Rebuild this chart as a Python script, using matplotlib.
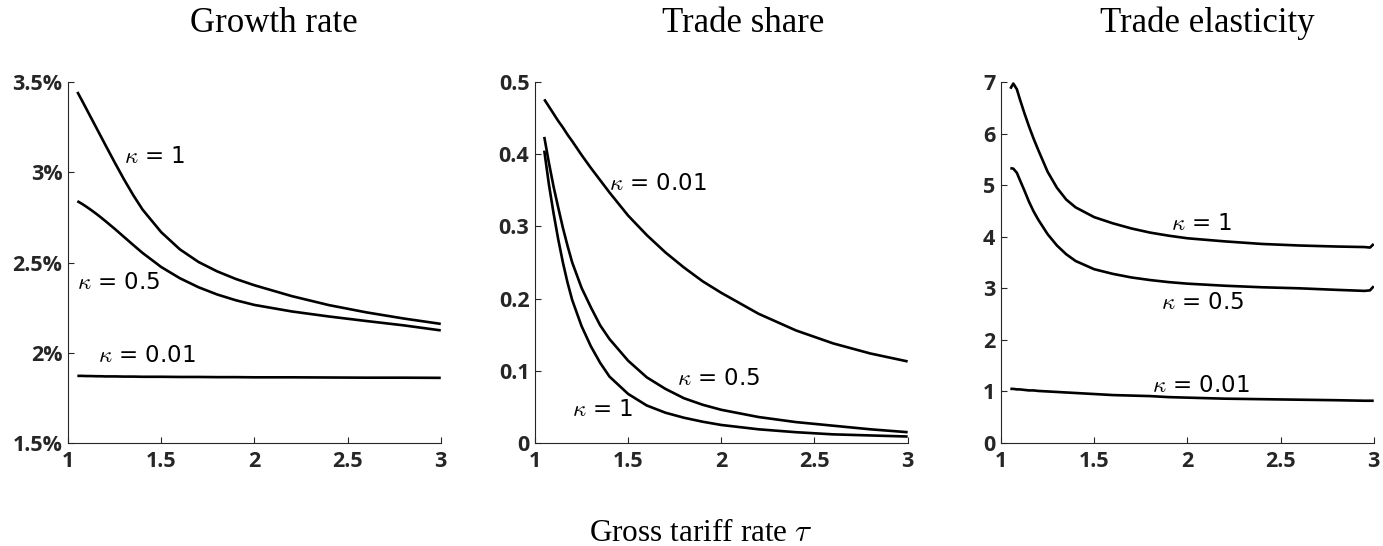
import numpy as np
import matplotlib
matplotlib.use("Agg")
import matplotlib.pyplot as plt
from matplotlib.ticker import FuncFormatter

# gross tariff grid (growth rate and trade share panels)
tau = [1.05, 1.075, 1.1, 1.125, 1.15, 1.175, 1.2, 1.25, 1.3, 1.35, 1.4,
       1.5, 1.6, 1.7, 1.8, 1.9, 2.0, 2.2, 2.4, 2.6, 2.8, 3.0]

# growth rate, in percent
growth_k1 = [3.445, 3.397, 3.348, 3.299, 3.25, 3.201, 3.152, 3.055, 2.961, 2.873, 2.793,
             2.668, 2.573, 2.503, 2.451, 2.409, 2.374, 2.314, 2.264, 2.224, 2.19, 2.16]
growth_k05 = [2.84, 2.825, 2.808, 2.79, 2.771, 2.751, 2.73, 2.687, 2.642, 2.597, 2.553,
              2.475, 2.413, 2.363, 2.323, 2.291, 2.265, 2.229, 2.201, 2.176, 2.152, 2.124]
growth_k001 = [1.872, 1.872, 1.871, 1.871, 1.870, 1.870, 1.869, 1.869, 1.868, 1.868, 1.867,
               1.867, 1.866, 1.866, 1.865, 1.865, 1.864, 1.864, 1.863, 1.862, 1.862, 1.861]

# trade share
share_k1 = [0.405, 0.358, 0.318, 0.282, 0.25, 0.222, 0.198, 0.162, 0.134, 0.111, 0.092,
            0.068, 0.052, 0.042, 0.035, 0.0295, 0.025, 0.019, 0.015, 0.012, 0.0105, 0.009]
share_k05 = [0.424, 0.388, 0.355, 0.326, 0.298, 0.273, 0.25, 0.215, 0.188, 0.163, 0.144,
             0.114, 0.091, 0.075, 0.062, 0.053, 0.046, 0.036, 0.029, 0.024, 0.019, 0.015]
share_k001 = [0.476, 0.466, 0.456, 0.446, 0.437, 0.427, 0.418, 0.399, 0.381, 0.364, 0.347,
              0.315, 0.288, 0.264, 0.243, 0.224, 0.208, 0.179, 0.156, 0.138, 0.124, 0.113]

# trade elasticity (own grid, the numerical curves wiggle at both ends)
tau_el = [1.05, 1.066, 1.085, 1.1, 1.125, 1.15, 1.175, 1.2, 1.25, 1.3, 1.35, 1.4,
          1.5, 1.6, 1.7, 1.8, 1.9, 2.0, 2.2, 2.4, 2.6, 2.8, 2.95, 2.98, 3.0]
elast_k1 = [6.87, 6.97, 6.86, 6.68, 6.40, 6.14, 5.90, 5.68, 5.26, 4.95, 4.72, 4.57,
            4.38, 4.26, 4.16, 4.08, 4.02, 3.97, 3.91, 3.86, 3.83, 3.81, 3.80, 3.79, 3.86]
elast_k05 = [5.33, 5.32, 5.24, 5.11, 4.90, 4.68, 4.49, 4.33, 4.05, 3.83, 3.66, 3.53,
             3.37, 3.28, 3.21, 3.16, 3.12, 3.09, 3.05, 3.02, 3.00, 2.97, 2.95, 2.96, 3.04]
elast_k001 = [1.05, 1.05, 1.04, 1.04, 1.03, 1.02, 1.02, 1.01, 1.00, 0.99, 0.98, 0.97,
              0.95, 0.93, 0.92, 0.91, 0.89, 0.88, 0.86, 0.85, 0.84, 0.83, 0.82, 0.82, 0.82]

titles = ["Growth rate", "Trade share", "Trade elasticity"]
x_ticks = [1, 1.5, 2, 2.5, 3]
growth_ticks = [1.5, 2, 2.5, 3, 3.5]
share_ticks = [0, 0.1, 0.2, 0.3, 0.4, 0.5]
elast_ticks = [0, 1, 2, 3, 4, 5, 6, 7]

# curve label text and anchor (x, y) per panel
growth_labels = [("1", 1.30, 3.085), ("0.5", 1.05, 2.39), ("0.01", 1.16, 1.985)]
share_labels = [("0.01", 1.40, 0.359), ("0.5", 1.76, 0.090), ("1", 1.20, 0.046)]
elast_labels = [("1", 1.91, 4.25), ("0.5", 1.86, 2.72), ("0.01", 1.81, 1.12)]

plt.rcParams["mathtext.fontset"] = "cm"
ink = "#262626"

fig = plt.figure(figsize=(13.83, 5.46), dpi=100)
lefts = [0.0492, 0.3868, 0.7238]
axes = [fig.add_axes([l, 0.1886, 0.2695, 0.6612]) for l in lefts]

panels = [
    (tau, [growth_k1, growth_k05, growth_k001], growth_ticks, growth_labels),
    (tau, [share_k1, share_k05, share_k001], share_ticks, share_labels),
    (tau_el, [elast_k1, elast_k05, elast_k001], elast_ticks, elast_labels),
]

for ax, (xs, curves, yt, labels) in zip(axes, panels):
    for ys in curves:
        ax.plot(xs, ys, color="black", lw=1.9, solid_capstyle="butt")
    ax.set_xlim(1, 3)
    ax.set_ylim(yt[0], yt[-1])
    ax.set_xticks(x_ticks)
    ax.set_yticks(yt)
    ax.xaxis.set_major_formatter(FuncFormatter(lambda v, p: f"{v:g}"))
    ax.yaxis.set_major_formatter(FuncFormatter(lambda v, p: f"{v:g}"))
    for side in ["top", "right"]:
        ax.spines[side].set_visible(False)
    for side in ["left", "bottom"]:
        ax.spines[side].set_color(ink)
        ax.spines[side].set_linewidth(0.8)
    ax.tick_params(direction="in", length=4, width=0.8, color=ink,
                   labelcolor=ink, labelsize=15.5)
    ax.tick_params(axis="x", pad=6)
    ax.tick_params(axis="y", pad=4)
    for t in ax.get_xticklabels() + ax.get_yticklabels():
        t.set_fontweight("bold")
        t.set_family("Open Sans")
    for val, lx, ly in labels:
        ax.text(lx, ly, r"$\kappa$ = " + val, fontsize=16.5, color="black",
                family="DejaVu Sans", ha="left", va="center")

axes[0].yaxis.set_major_formatter(FuncFormatter(lambda v, p: f"{v:g}%"))

title_x = [274 / 1383, 743 / 1383, 1207 / 1383]
for tx, name in zip(title_x, titles):
    fig.text(tx, 1 - 32 / 546, name, family="Liberation Serif", fontsize=25,
             ha="center", va="baseline")

fig.text(701 / 1383, 1 - 541 / 546, r"Gross tariff rate $\tau$",
         family="Liberation Serif", fontsize=22.5, ha="center", va="baseline")

fig.savefig("out.png", dpi=100)
